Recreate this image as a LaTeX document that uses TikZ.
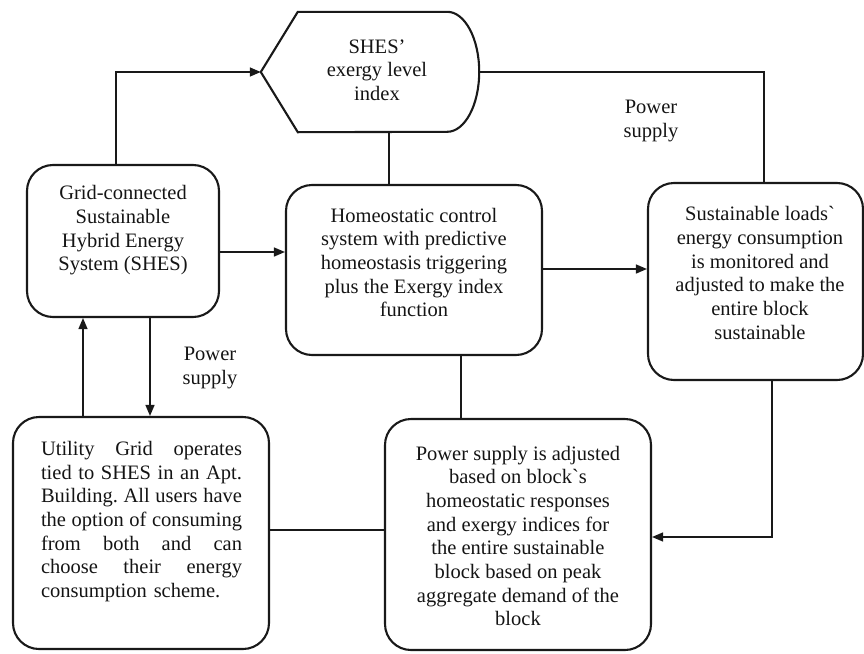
\documentclass[tikz,border=0pt]{standalone}
\usepackage{fontspec}
\setmainfont{Liberation Serif}
\usetikzlibrary{arrows.meta,calc}
\begin{document}
\begin{tikzpicture}[x=1pt,y=-1pt,
  box/.style={draw=black!90, line width=2.1pt, rounded corners=26pt, inner sep=0pt},
  txt/.style={font=\fontsize{20.5}{23.7}\selectfont, align=center, inner sep=0pt, text=black!92},
  conn/.style={line width=1.4pt, draw=black!90},
  arr/.style={conn, -{Triangle[length=11pt,width=9pt]}}]
\useasboundingbox (0,0) rectangle (864,653);

% display shape
\node[minimum width=218pt, minimum height=120pt, inner sep=0pt] (disp) at (370,72) {};
\draw[line width=2.1pt, draw=black!90] (disp.west) -- ([xshift=37pt]disp.north west) -- ([xshift=-32pt]disp.north east)
  arc[start angle=90, end angle=-90, x radius=32pt, y radius=60pt] -- ([xshift=37pt]disp.south west) -- cycle;
\node[txt] (dispt) at (377,70) {SHES’\\exergy level\\index};

% boxes
\node[box, minimum width=192pt, minimum height=152pt] (grid) at (123,241) {};
\node[txt] (gridt) at (123,230.5) {Grid-connected\\Sustainable\\Hybrid Energy\\System (SHES)};

\node[box, minimum width=256pt, minimum height=170pt] (homeo) at (414,270) {};
\node[txt] (homeot) at (414,262.5) {Homeostatic control\\system with predictive\\homeostasis triggering\\plus the Exergy index\\function};

\node[box, minimum width=215pt, minimum height=197pt] (sust) at (755.5,281.5) {};
\node[txt] (sustt) at (760,273) {Sustainable loads\textasciigrave\\energy consumption\\is monitored and\\adjusted to make the\\entire block\\sustainable};

\node[box, minimum width=256pt, minimum height=232pt] (util) at (141,533) {};
\node[txt, align=left, text width=201pt] (utilt) at (141.5,521.5) {%
\makebox[201pt][s]{Utility\hfill Grid\hfill operates}\\
\makebox[201pt][s]{tied\hfill to\hfill SHES\hfill in\hfill an\hfill Apt.}\\
\makebox[201pt][s]{Building.\hfill All\hfill users\hfill have}\\
\makebox[201pt][s]{the\hfill option\hfill of\hfill consuming}\\
\makebox[201pt][s]{from\hfill both\hfill and\hfill can}\\
\makebox[201pt][s]{choose\hfill their\hfill energy}\\
consumption scheme.};

\node[box, minimum width=266pt, minimum height=231pt] (pwr) at (518,534.5) {};
\node[txt] (pwrt) at (518,536) {Power supply is adjusted\\based on block\textasciigrave s\\homeostatic responses\\and exergy indices for\\the entire sustainable\\block based on peak\\aggregate demand of the\\block};

% labels
\node[txt] (ps1) at (651,121) {Power\\supply};
\node[txt] (ps2) at (210,368) {Power\\supply};

% connectors
\draw[arr] ([xshift=-7pt]grid.north) |- (disp.west);
\draw[conn] ([xshift=19pt]disp.south) -- ([xshift=19pt]disp.south |- homeo.north);
\draw[arr] (grid.east |- 0,252) -- (homeo.west |- 0,252);
\draw[arr] (homeo.east |- 0,269) -- (sust.west |- 0,269);
\draw[conn] (disp.east) -| ([xshift=8.5pt]sust.north);
\draw[arr] ([xshift=16.5pt]sust.south) |- (pwr.east |- 0,537);
\draw[conn] ([xshift=47pt]homeo.south) -- ([xshift=47pt]homeo.south |- pwr.north);
\draw[conn] (util.east |- 0,530) -- (pwr.west |- 0,530);
\draw[arr] ([xshift=-58pt]util.north) -- ([xshift=-58pt]util.north |- grid.south);
\draw[arr] ([xshift=27pt]grid.south) -- ([xshift=27pt]grid.south |- util.north);
\end{tikzpicture}
\end{document}
